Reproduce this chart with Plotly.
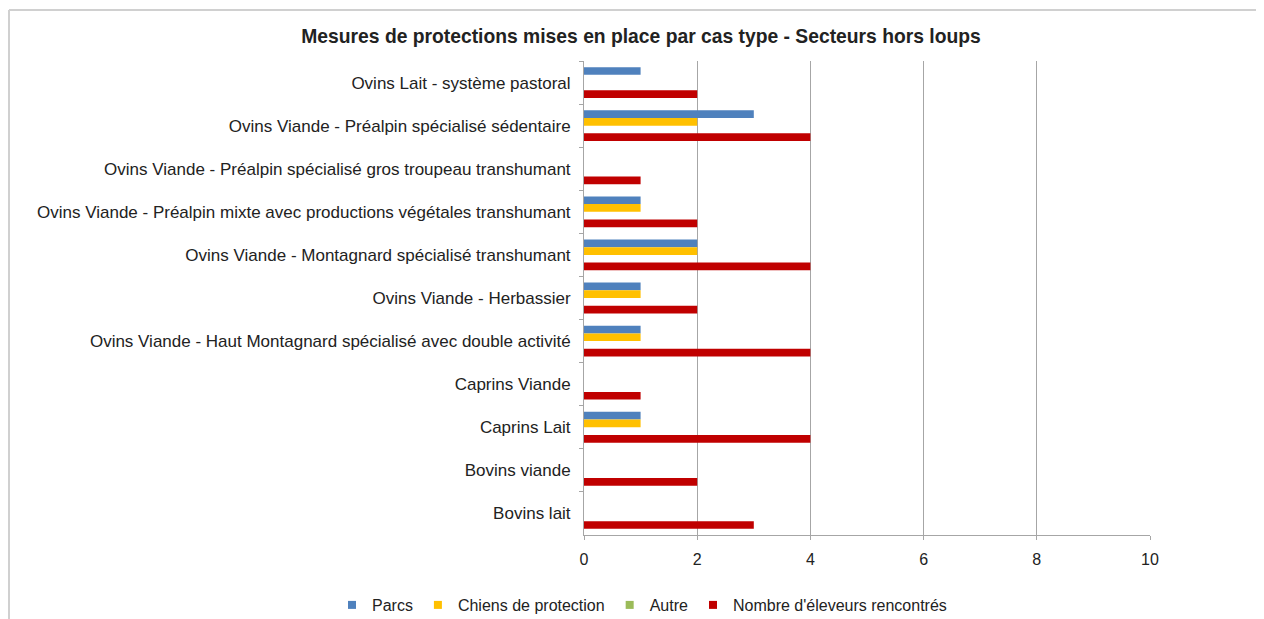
import plotly.graph_objects as go

categories = [
    "Ovins Lait - système pastoral",
    "Ovins Viande - Préalpin spécialisé sédentaire",
    "Ovins Viande - Préalpin spécialisé gros troupeau transhumant",
    "Ovins Viande - Préalpin mixte avec productions végétales transhumant",
    "Ovins Viande - Montagnard spécialisé transhumant",
    "Ovins Viande - Herbassier",
    "Ovins Viande - Haut Montagnard spécialisé avec double activité",
    "Caprins Viande",
    "Caprins Lait",
    "Bovins viande",
    "Bovins lait",
]
parcs = [1, 3, 0, 1, 2, 1, 1, 0, 1, 0, 0]
chiens = [0, 2, 0, 1, 2, 1, 1, 0, 1, 0, 0]
autre = [0, 0, 0, 0, 0, 0, 0, 0, 0, 0, 0]
nombre = [2, 4, 1, 2, 4, 2, 4, 1, 4, 2, 3]

series = [
    ("Parcs", parcs, "#4F81BD"),
    ("Chiens de protection", chiens, "#FFC000"),
    ("Autre", autre, "#9BBB59"),
    ("Nombre d'éleveurs rencontrés", nombre, "#C00000"),
]

fig = go.Figure()
for name, vals, col in series:
    fig.add_trace(go.Bar(y=categories, x=vals, name=name, orientation="h", showlegend=False,
                         legendgroup=name, marker=dict(color=col, line=dict(width=0))))
for name, vals, col in series:
    fig.add_trace(go.Scatter(x=[None], y=[None], mode="markers", name=name, legendgroup=name,
                             marker=dict(symbol="square", size=8, color=col)))

# page body adds an 8px offset; figure coordinates = screen - 8
OFF = 8
W, H = 1264, 619
ml, mr, mt, mb = 584 - OFF, W - (1150 - OFF), 61 - OFF, H - (535 - OFF)
pw, ph = W - ml - mr, H - mt - mb

def px(xs):
    return (xs - OFF - ml) / pw

def py(ys):
    return 1 - (ys - OFF - mt) / ph

fig.update_layout(
    width=W, height=H,
    margin=dict(l=ml, r=mr, t=mt, b=mb, autoexpand=False),
    paper_bgcolor="white", plot_bgcolor="white",
    barmode="group", bargap=0.285, bargroupgap=0,
    font=dict(family="Liberation Sans, Arial, sans-serif", size=17, color="#222222"),
    title=dict(text="<b>Mesures de protections mises en place par cas type - Secteurs hors loups</b>",
               x=(641 - OFF) / W, xref="container", xanchor="center",
               y=1 - (36 - OFF) / H, yref="container", yanchor="middle",
               font=dict(family="Liberation Sans, Arial", size=19.3, color="#222222")),
    showlegend=True,
    legend=dict(orientation="h", x=px(332), xanchor="left", xref="paper",
                y=py(605), yref="paper", yanchor="middle",
                font=dict(size=16, color="#222222"),
                itemwidth=30, traceorder="normal"),
    shapes=[
        dict(type="line", xref="paper", yref="paper", x0=px(9), x1=px(1290), y0=py(10), y1=py(10),
             line=dict(color="#D0D0D0", width=2)),
        dict(type="line", xref="paper", yref="paper", x0=px(9), x1=px(9), y0=py(10), y1=py(640),
             line=dict(color="#D0D0D0", width=2)),
    ],
)
fig.update_xaxes(range=[0, 10], dtick=2, showgrid=True, gridcolor="#A6A6A6", gridwidth=1,
                 zeroline=False, showline=True, linecolor="#A6A6A6", linewidth=1,
                 ticks="outside", ticklen=4, tickcolor="#A6A6A6",
                 tickfont=dict(size=16, color="#222222"), ticklabelstandoff=6)
fig.update_yaxes(autorange="reversed", showline=True, linecolor="#A6A6A6", linewidth=1,
                 ticks="outside", tickson="boundaries", ticklen=4, tickcolor="#A6A6A6",
                 tickfont=dict(size=17, color="#222222"), ticklabelstandoff=9)

fig.write_html("out.html")
